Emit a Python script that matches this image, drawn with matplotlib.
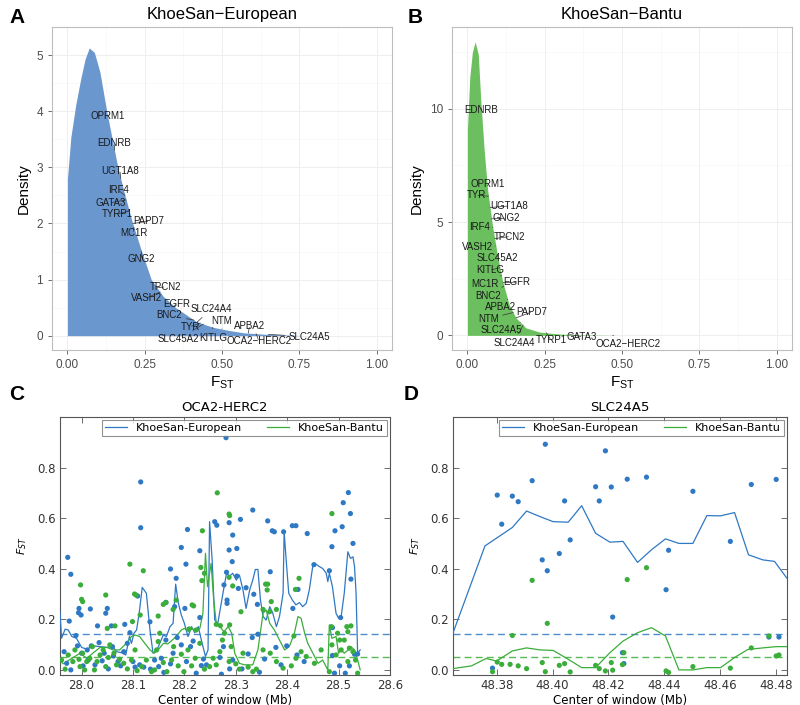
import numpy as np
import matplotlib
matplotlib.use('Agg')
from matplotlib import pyplot as plt

# ---- density curves ----
dens_eu_x = [0.0, 0.0, 0.011, 0.027, 0.043, 0.057, 0.0705, 0.087, 0.105, 0.127, 0.145, 0.163, 0.186,
             0.211, 0.24, 0.271, 0.31, 0.35, 0.417, 0.47, 0.515, 0.57, 0.64, 0.72, 0.76]
dens_eu_y = [0.0, 2.8, 3.54, 4.12, 4.58, 4.93, 5.13, 5.05, 4.7, 4.0, 3.5, 3.0, 2.5,
             2.0, 1.5, 1.0, 0.7, 0.5, 0.25, 0.15, 0.1, 0.05, 0.025, 0.01, 0.0]
dens_ba_x = [0.0, 0.0, 0.0076, 0.016, 0.025, 0.035, 0.043, 0.054, 0.065, 0.081, 0.097, 0.114, 0.135,
             0.157, 0.189, 0.232, 0.286, 0.34, 0.427, 0.48]
dens_ba_y = [0.0, 9.1, 11.4, 12.5, 12.95, 12.4, 10.4, 8.2, 6.44, 4.84, 3.53, 2.37, 1.35,
             0.77, 0.33, 0.15, 0.07, 0.03, 0.01, 0.0]

# ---- pigmentation genes, their F_ST, and where the labels sit ----
genes_eu = ['OPRM1', 'EDNRB', 'UGT1A8', 'IRF4', 'GATA3', 'TYRP1', 'PAPD7', 'MC1R', 'GNG2', 'TPCN2',
            'VASH2', 'EGFR', 'SLC24A4', 'BNC2', 'NTM', 'TYR', 'APBA2', 'SLC45A2', 'KITLG',
            'OCA2\u2212HERC2', 'SLC24A5']
fst_eu = [0.13, 0.152, 0.172, 0.186, 0.19, 0.2, 0.211, 0.215, 0.24, 0.29, 0.3, 0.345, 0.42, 0.41,
          0.5, 0.43, 0.585, 0.44, 0.47, 0.61, 0.65]
lab_eu = [(0.130, 3.92), (0.152, 3.43), (0.170, 2.94), (0.165, 2.59), (0.139, 2.37), (0.161, 2.17),
          (0.264, 2.04), (0.214, 1.83), (0.239, 1.37), (0.316, 0.87), (0.255, 0.67), (0.352, 0.57),
          (0.466, 0.48), (0.329, 0.36), (0.498, 0.26), (0.397, 0.16), (0.589, 0.17), (0.359, -0.06),
          (0.472, -0.04), (0.619, -0.09), (0.784, -0.02)]

genes_ba = ['EDNRB', 'OPRM1', 'TYR', 'UGT1A8', 'GNG2', 'IRF4', 'TPCN2', 'VASH2', 'SLC45A2', 'KITLG',
            'EGFR', 'MC1R', 'BNC2', 'APBA2', 'PAPD7', 'NTM', 'SLC24A5', 'SLC24A4', 'TYRP1', 'GATA3',
            'OCA2\u2212HERC2']
fst_ba = [0.045, 0.064, 0.068, 0.073, 0.078, 0.082, 0.088, 0.092, 0.097, 0.105, 0.115, 0.11, 0.118,
          0.13, 0.157, 0.148, 0.172, 0.18, 0.255, 0.33, 0.47]
lab_ba = [(0.045, 9.96), (0.065, 6.69), (0.029, 6.18), (0.135, 5.71), (0.124, 5.17), (0.038, 4.77),
          (0.137, 4.36), (0.032, 3.92), (0.097, 3.42), (0.074, 2.88), (0.16, 2.35), (0.057, 2.25),
          (0.068, 1.74), (0.106, 1.24), (0.208, 1.03), (0.067, 0.73), (0.111, 0.22), (0.151, -0.32),
          (0.27, -0.20), (0.371, -0.06), (0.519, -0.36)]

# ---- OCA2-HERC2 window scan ----
oca_eu_x = [27.973, 27.979, 27.995, 28.017, 27.994, 27.999, 27.976, 28.031, 28.047, 28.05, 28.058,
            28.115, 28.115, 28.109, 28.084, 28.133, 28.173, 28.184, 28.194, 28.181, 28.203, 28.206,
            28.201, 28.23, 28.23, 28.164, 28.281, 28.259, 28.263, 28.287, 28.287, 28.294, 28.293,
            28.302, 28.309, 28.282, 28.283, 28.283, 28.277, 28.302, 28.305, 28.32, 28.333, 28.335,
            28.342, 28.332, 28.343, 28.362, 28.367, 28.371, 28.375, 28.393, 28.41, 28.417, 28.439,
            28.411, 28.421, 28.452, 28.482, 28.487, 28.493, 28.507, 28.509, 28.519, 28.523, 28.528,
            28.524, 28.504, 28.488, 28.488, 28.531, 28.537,
            27.966, 27.971, 27.979, 27.989, 27.992, 28.0, 28.003, 28.011, 28.013, 28.019, 28.026,
            28.034, 28.04, 28.044, 28.052, 28.06, 28.062, 28.071, 28.076, 28.082, 28.089, 28.094,
            28.1, 28.104, 28.113, 28.121, 28.134, 28.142, 28.15, 28.155, 28.16, 28.164, 28.173,
            28.178, 28.186, 28.194, 28.204, 28.212, 28.217, 28.223, 28.233, 28.237, 28.243, 28.269,
            28.272, 28.276, 28.288, 28.294, 28.312, 28.324, 28.346, 28.356, 28.378, 28.388, 28.399,
            28.419, 28.433, 28.502, 28.492, 28.513, 28.521]
oca_eu_y = [0.445, 0.378, 0.243, 0.241, 0.226, 0.217, 0.193, 0.174, 0.224, 0.243, 0.174,
            0.743, 0.562, 0.292, 0.18, 0.19, 0.399, 0.362, 0.484, 0.25, 0.418, 0.555,
            0.243, 0.471, 0.207, 0.267, 0.918, 0.586, 0.572, 0.582, 0.474, 0.533, 0.428,
            0.48, 0.595, 0.386, 0.276, 0.263, 0.336, 0.371, 0.322, 0.325, 0.632, 0.299,
            0.259, 0.128, 0.141, 0.589, 0.388, 0.55, 0.546, 0.546, 0.57, 0.57, 0.539,
            0.243, 0.318, 0.416, 0.392, 0.487, 0.55, 0.566, 0.661, 0.701, 0.618, 0.5,
            0.359, 0.207, 0.167, 0.057, 0.062, 0.063,
            0.072, 0.026, 0.0, 0.136, 0.095, 0.066, 0.016, 0.079, 0.039, 0.095, 0.02,
            0.108, 0.036, 0.066, 0.004, 0.092, 0.055, 0.033, 0.016, 0.072, 0.105, 0.147,
            0.033, 0.011, 0.02, 0.011, 0.003, 0.039, 0.013, 0.046, -0.01, 0.118, 0.024,
            0.066, 0.128, 0.099, 0.033, 0.092, 0.114, -0.013, 0.017, 0.043, 0.02, 0.049,
            -0.017, 0.092, 0.004, 0.039, 0.004, 0.063, -0.009, 0.043, 0.089, 0.02, 0.095,
            0.059, 0.033, 0.016, -0.013, -0.013, 0.016]
oca_ba_x = [28.264, 28.287, 28.288, 28.487, 28.235, 28.094, 28.12, 28.232, 28.234, 28.239, 27.998,
            28.0, 28.002, 28.047, 28.103, 28.106, 28.114, 28.099, 28.05, 28.065, 28.149, 28.159,
            28.164, 28.184, 28.178, 28.209, 28.215, 28.218, 28.223, 28.262, 28.27, 28.287, 28.288,
            28.294, 28.31, 28.358, 28.362, 28.361, 28.366, 28.369, 28.353, 28.379, 28.416, 28.423,
            28.413, 28.486, 28.516, 28.524, 28.498, 28.511, 28.518, 28.521,
            27.961, 27.968, 27.974, 27.983, 27.987, 27.995, 27.997, 28.002, 28.006, 28.01, 28.016,
            28.021, 28.025, 28.03, 28.036, 28.042, 28.047, 28.052, 28.055, 28.063, 28.068, 28.074,
            28.082, 28.089, 28.097, 28.104, 28.108, 28.117, 28.126, 28.136, 28.142, 28.146, 28.149,
            28.152, 28.159, 28.166, 28.175, 28.179, 28.188, 28.194, 28.199, 28.207, 28.214, 28.221,
            28.23, 28.239, 28.249, 28.256, 28.262, 28.269, 28.274, 28.278, 28.287, 28.291, 28.3,
            28.307, 28.314, 28.324, 28.333, 28.34, 28.353, 28.367, 28.379, 28.392, 28.408, 28.417,
            28.427, 28.437, 28.453, 28.466, 28.482, 28.487, 28.495, 28.502, 28.505, 28.518, 28.528,
            28.533, 28.537]
oca_ba_y = [0.7, 0.616, 0.61, 0.618, 0.55, 0.418, 0.392, 0.405, 0.353, 0.382, 0.336,
            0.279, 0.27, 0.296, 0.3, 0.296, 0.217, 0.191, 0.164, 0.174, 0.213, 0.259,
            0.266, 0.276, 0.239, 0.162, 0.257, 0.253, 0.158, 0.18, 0.175, 0.366, 0.178,
            0.332, 0.23, 0.339, 0.339, 0.316, 0.23, 0.27, 0.239, 0.239, 0.318, 0.362,
            0.134, 0.171, 0.171, 0.174, 0.145, 0.118, 0.151, 0.086,
            0.039, 0.003, 0.059, 0.033, 0.079, 0.042, 0.013, 0.066, 0.0, 0.033, 0.046,
            0.092, 0.0, 0.033, 0.059, 0.079, 0.013, 0.049, 0.099, 0.066, 0.02, 0.042,
            0.026, 0.004, 0.039, 0.079, -0.003, 0.013, 0.039, -0.007, 0.0, 0.079, 0.112,
            0.145, 0.029, -0.007, 0.039, 0.092, 0.016, 0.062, -0.007, 0.079, 0.016, 0.046,
            0.105, 0.003, 0.013, 0.046, 0.02, 0.072, 0.118, 0.145, 0.033, 0.092, 0.024,
            0.003, 0.066, 0.011, -0.007, 0.003, 0.079, 0.066, 0.033, 0.007, 0.016, 0.046,
            0.072, 0.053, 0.026, 0.079, -0.007, 0.099, 0.059, 0.118, 0.079, 0.033, 0.072,
            0.039, -0.013]
oca_eu_line_x = [27.958, 27.961, 27.968, 27.974, 27.981, 27.99, 28.0, 28.01, 28.023, 28.036, 28.049,
                 28.061, 28.068, 28.078, 28.086, 28.093, 28.097, 28.102, 28.107, 28.112, 28.118, 28.126,
                 28.133, 28.139, 28.147, 28.152, 28.159, 28.165, 28.172, 28.178, 28.183, 28.188, 28.194,
                 28.2, 28.207, 28.214, 28.22, 28.227, 28.233, 28.241, 28.246, 28.249, 28.254, 28.259,
                 28.265, 28.27, 28.275, 28.282, 28.288, 28.294, 28.301, 28.307, 28.314, 28.32, 28.327,
                 28.333, 28.338, 28.343, 28.348, 28.353, 28.359, 28.366, 28.372, 28.379, 28.385, 28.392,
                 28.394, 28.399, 28.403, 28.41, 28.417, 28.424, 28.43, 28.437, 28.443, 28.45, 28.456,
                 28.463, 28.469, 28.476, 28.479, 28.482, 28.488, 28.495, 28.5, 28.505, 28.511, 28.518,
                 28.523, 28.528, 28.531, 28.534, 28.537, 28.542]
oca_eu_line_y = [0.23, 0.125, 0.161, 0.158, 0.132, 0.125, 0.089, 0.082, 0.095, 0.092, 0.089,
                 0.092, 0.072, 0.068, 0.059, 0.132, 0.105, 0.145, 0.158, 0.224, 0.326, 0.303,
                 0.158, 0.066, 0.079, 0.105, 0.138, 0.132, 0.171, 0.184, 0.339, 0.266, 0.217,
                 0.184, 0.132, 0.171, 0.147, 0.171, 0.118, 0.053, 0.079, 0.586, 0.434, 0.197,
                 0.184, 0.243, 0.303, 0.382, 0.371, 0.382, 0.355, 0.375, 0.316, 0.243, 0.316,
                 0.355, 0.397, 0.397, 0.276, 0.211, 0.197, 0.25, 0.224, 0.171, 0.211, 0.303,
                 0.546, 0.408, 0.303, 0.276, 0.257, 0.266, 0.25, 0.263, 0.316, 0.414, 0.418,
                 0.408, 0.401, 0.382, 0.349, 0.382, 0.329, 0.224, 0.204, 0.211, 0.303, 0.467,
                 0.441, 0.447, 0.408, 0.303, 0.066, 0.079]
oca_ba_line_x = [27.958, 27.964, 27.997, 28.01, 28.023, 28.036, 28.049, 28.061, 28.074, 28.087, 28.097,
                 28.104, 28.113, 28.123, 28.133, 28.141, 28.149, 28.159, 28.168, 28.178, 28.184, 28.194,
                 28.2, 28.209, 28.215, 28.223, 28.23, 28.236, 28.241, 28.245, 28.249, 28.252, 28.257,
                 28.262, 28.269, 28.277, 28.285, 28.292, 28.298, 28.307, 28.317, 28.333, 28.343, 28.353,
                 28.359, 28.366, 28.375, 28.385, 28.395, 28.404, 28.414, 28.421, 28.427, 28.434, 28.44,
                 28.45, 28.46, 28.469, 28.479, 28.482, 28.487, 28.495, 28.5, 28.505, 28.511, 28.519,
                 28.524, 28.531, 28.537, 28.542]
oca_ba_line_y = [0.039, 0.024, 0.066, 0.046, 0.068, 0.089, 0.089, 0.079, 0.079, 0.105, 0.132,
                 0.138, 0.132, 0.105, 0.079, 0.066, 0.079, 0.105, 0.103, 0.121, 0.132, 0.158,
                 0.164, 0.151, 0.164, 0.151, 0.164, 0.224, 0.461, 0.329, 0.382, 0.421, 0.276,
                 0.184, 0.171, 0.151, 0.171, 0.145, 0.066, 0.026, 0.02, 0.02, 0.079, 0.224,
                 0.237, 0.184, 0.158, 0.118, 0.079, 0.092, 0.145, 0.211, 0.204, 0.145, 0.105,
                 0.066, 0.026, 0.039, 0.0, 0.178, 0.125, 0.132, 0.066, 0.079, 0.066, 0.079,
                 0.092, 0.079, 0.039, 0.0]

# ---- SLC24A5 window scan ----
slc_eu_x = [48.3802, 48.3818, 48.3856, 48.3877, 48.3927, 48.3963, 48.3974, 48.3981, 48.4024, 48.4043,
            48.4063, 48.4154, 48.4167, 48.4189, 48.421, 48.4215, 48.4267, 48.4336, 48.4406, 48.4415,
            48.4502, 48.4636, 48.4711, 48.4774, 48.48, 48.481, 48.3785, 48.425, 48.4255]
slc_eu_y = [0.691, 0.576, 0.687, 0.665, 0.748, 0.435, 0.892, 0.392, 0.46, 0.668,
            0.514, 0.724, 0.668, 0.866, 0.723, 0.209, 0.754, 0.762, 0.317, 0.473,
            0.706, 0.508, 0.733, 0.13, 0.753, 0.13, 0.007, 0.068, 0.025]
slc_ba_x = [48.3927, 48.3981, 48.3856, 48.4267, 48.4336, 48.3785, 48.3802, 48.3818, 48.3848, 48.3877,
            48.3907, 48.3963, 48.3974, 48.4024, 48.4043, 48.4063, 48.4154, 48.4167, 48.4189, 48.421,
            48.4215, 48.425, 48.4255, 48.4406, 48.4415, 48.4502, 48.4636, 48.4711, 48.4774, 48.48,
            48.481]
slc_ba_y = [0.354, 0.184, 0.136, 0.357, 0.404, -0.007, 0.031, 0.022, 0.022, 0.016,
            0.005, 0.029, -0.007, 0.018, 0.025, -0.008, 0.018, 0.005, -0.004, 0.029,
            -0.001, 0.021, 0.068, -0.004, -0.01, 0.013, 0.007, 0.087, 0.134, 0.055,
            0.059]
slc_eu_line_x = [48.3643, 48.3758, 48.3856, 48.3907, 48.3955, 48.4002, 48.4056, 48.4104, 48.4154,
                 48.4205, 48.4252, 48.4304, 48.4354, 48.4404, 48.4452, 48.4502, 48.4552, 48.4601,
                 48.4651, 48.4701, 48.4752, 48.4794, 48.4838]
slc_eu_line_y = [0.144, 0.49, 0.563, 0.628, 0.606, 0.586, 0.584, 0.649, 0.54,
                 0.505, 0.508, 0.425, 0.475, 0.518, 0.5, 0.5, 0.61, 0.609,
                 0.622, 0.455, 0.435, 0.429, 0.363]
slc_ba_line_x = [48.3643, 48.371, 48.3762, 48.38, 48.3856, 48.3907, 48.3955, 48.4002, 48.4056,
                 48.4104, 48.4154, 48.4205, 48.4252, 48.4304, 48.4354, 48.4404, 48.4452, 48.4502,
                 48.4552, 48.4601, 48.4651, 48.4699, 48.4752, 48.48, 48.4838]
slc_ba_line_y = [0.005, 0.016, 0.045, 0.035, 0.075, 0.087, 0.079, 0.077, 0.042,
                 0.009, 0.009, 0.068, 0.114, 0.147, 0.167, 0.134, 0.0, 0.0,
                 0.009, 0.009, 0.049, 0.081, 0.087, 0.092, 0.092]

cutoff_eu = 0.143
cutoff_ba = 0.053

BLUE = '#2f78c4'
GREEN = '#3aad3a'

fig = plt.figure(figsize=(8, 7.05), dpi=100)


def density_panel(rect, xs, ys, fill, genes, fst, labs, title, yticks):
    ax = fig.add_axes(rect)
    ax.fill_between(xs, ys, 0, color=fill, lw=0, zorder=2)
    ymax = max(ys)
    ax.set_xlim(-0.05, 1.05)
    ax.set_ylim(-0.05 * ymax, 1.05 * ymax)
    ax.set_xticks([0, 0.25, 0.5, 0.75, 1.0])
    ax.set_xticklabels(['0.00', '0.25', '0.50', '0.75', '1.00'])
    ax.set_yticks(yticks)
    ax.set_xticks([0.125, 0.375, 0.625, 0.875], minor=True)
    step = yticks[1] - yticks[0]
    ax.set_yticks([t + step / 2 for t in yticks], minor=True)
    ax.grid(True, which='major', color='#ebebeb', lw=0.6, zorder=0)
    ax.grid(True, which='minor', color='#f5f5f5', lw=0.4, zorder=0)
    ax.tick_params(which='minor', length=0)
    ax.tick_params(which='major', length=3, color='#333333', labelsize=8.5,
                   labelcolor='#4d4d4d', width=0.5)
    for s in ax.spines.values():
        s.set_color('#bdbdbd')
        s.set_linewidth(0.8)
    ax.set_title(title, fontsize=12, pad=6, family='Liberation Sans')
    ax.set_ylabel('Density', fontsize=11, family='Liberation Sans')
    ax.set_xlabel('F$_{\\mathregular{ST}}$', fontsize=11, family='Liberation Sans', labelpad=2)
    for lbl in ax.get_xticklabels() + ax.get_yticklabels():
        lbl.set_family('Liberation Sans')
    for g, f, (lx, ly) in zip(genes, fst, labs):
        py = np.interp(f, xs[1:], ys[1:])
        ax.annotate(g, xy=(f, py), xytext=(lx, ly), ha='center', va='center',
                    fontsize=7, family='Liberation Sans', color='#1a1a1a', zorder=5,
                    arrowprops=dict(arrowstyle='-', color='#333333', lw=0.5,
                                    shrinkA=1, shrinkB=0))
    return ax


density_panel([0.065, 0.5035, 0.425, 0.458], dens_eu_x, dens_eu_y, '#6b97cf',
              genes_eu, fst_eu, lab_eu, 'KhoeSan\u2212European', [0, 1, 2, 3, 4, 5])
density_panel([0.565, 0.5035, 0.425, 0.458], dens_ba_x, dens_ba_y, '#6cbf5f',
              genes_ba, fst_ba, lab_ba, 'KhoeSan\u2212Bantu', [0, 5, 10])


def scan_panel(rect, ex, ey, bx, by, elx, ely, blx, bly, xlim, xticks, xtl, title):
    ax = fig.add_axes(rect)
    ax.plot(elx, ely, color=BLUE, lw=0.9, label='KhoeSan-European', zorder=3)
    ax.plot(blx, bly, color=GREEN, lw=0.9, label='KhoeSan-Bantu', zorder=3)
    ax.scatter(ex, ey, s=14, color=BLUE, edgecolors='none', zorder=4)
    ax.scatter(bx, by, s=14, color=GREEN, edgecolors='none', zorder=4)
    ax.axhline(cutoff_eu, color=BLUE, ls='--', lw=1.0, alpha=0.85, dashes=(5, 3))
    ax.axhline(cutoff_ba, color=GREEN, ls='--', lw=1.0, alpha=0.85, dashes=(5, 3))
    ax.set_xlim(*xlim)
    ax.set_ylim(-0.02, 1.0)
    ax.set_xticks(xticks)
    ax.set_xticklabels(xtl)
    ax.set_yticks([0.0, 0.2, 0.4, 0.6, 0.8])
    ax.tick_params(direction='in', top=True, right=True, length=4, width=0.6,
                   labelsize=8.5, labelcolor='#333333', color='#555555', pad=3)
    for s in ax.spines.values():
        s.set_color('#555555')
        s.set_linewidth(0.8)
    ax.set_title(title, fontsize=9.5, pad=4)
    ax.set_xlabel('Center of window (Mb)', fontsize=8.5, labelpad=1)
    ax.set_ylabel('$F_{ST}$', fontsize=8, labelpad=6)
    leg = ax.legend(loc='upper right', ncol=2, fontsize=8, frameon=True, fancybox=False,
                    borderaxespad=0.25, handlelength=2.0, columnspacing=2.2,
                    borderpad=0.3, handletextpad=0.8)
    leg.get_frame().set_edgecolor('#777777')
    leg.get_frame().set_linewidth(0.8)
    leg.set_zorder(10)
    return ax


scan_panel([0.075, 0.0426, 0.4125, 0.366], oca_eu_x, oca_eu_y, oca_ba_x, oca_ba_y,
           oca_eu_line_x, oca_eu_line_y, oca_ba_line_x, oca_ba_line_y,
           (27.958, 28.6), [28.0, 28.1, 28.2, 28.3, 28.4, 28.5, 28.6],
           ['28.0', '28.1', '28.2', '28.3', '28.4', '28.5', '28.6'], 'OCA2-HERC2')
scan_panel([0.566, 0.0426, 0.4175, 0.366], slc_eu_x, slc_eu_y, slc_ba_x, slc_ba_y,
           slc_eu_line_x, slc_eu_line_y, slc_ba_line_x, slc_ba_line_y,
           (48.3643, 48.4838), [48.38, 48.40, 48.42, 48.44, 48.46, 48.48],
           ['48.38', '48.40', '48.42', '48.44', '48.46', '48.48'], 'SLC24A5')

for lab, x, y in [('A', 0.012, 0.975), ('B', 0.51, 0.975), ('C', 0.012, 0.44), ('D', 0.505, 0.44)]:
    fig.text(x, y, lab, fontsize=15, fontweight='bold', family='Liberation Sans', va='center')

fig.savefig('out.png', dpi=100)
